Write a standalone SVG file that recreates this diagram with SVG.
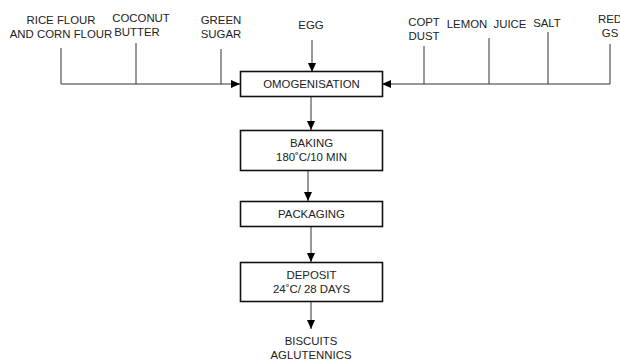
<svg xmlns="http://www.w3.org/2000/svg" width="620" height="360" viewBox="0 0 620 360">
<defs>
<marker id="ah" markerUnits="userSpaceOnUse" markerWidth="10" markerHeight="10" refX="9" refY="4" orient="auto">
<path d="M0,0 L9,4 L0,8 Z" fill="#000"/>
</marker>
<style>
text{font-family:"Liberation Sans",Arial,sans-serif;font-size:11.4px;fill:#222;text-anchor:middle}
.box{fill:#fff;stroke:#111;stroke-width:1.6}
.ln{fill:none;stroke:#333;stroke-width:1}
.ar{fill:none;stroke:#333;stroke-width:1;marker-end:url(#ah)}
</style>
</defs>
<rect width="620" height="360" fill="#fff"/>
<g id="connectors">
<path class="ln" d="M61,48 V84"/>
<path class="ln" d="M136,43 V84"/>
<path class="ln" d="M221,49 V84"/>
<path class="ar" d="M61,84 H240"/>
<path class="ln" d="M424,46 V84"/>
<path class="ln" d="M489,38 V84"/>
<path class="ln" d="M548,32 V84"/>
<path class="ln" d="M610,44 V84"/>
<path class="ar" d="M610,84 H382"/>
<path class="ar" d="M312,40 V72"/>
<path class="ar" d="M311,97 V130"/>
<path class="ar" d="M308,170 V201"/>
<path class="ar" d="M311,227 V262"/>
<path class="ar" d="M311,302 V329"/>
</g>
<g id="rice"><text x="61" y="24">RICE FLOUR</text><text x="61" y="38">AND CORN FLOUR</text></g>
<g id="coconut"><text x="141" y="22">COCONUT</text><text x="137" y="36">BUTTER</text></g>
<g id="green"><text x="221" y="24">GREEN</text><text x="221" y="38">SUGAR</text></g>
<g id="egg"><text x="311" y="29">EGG</text></g>
<g id="copt"><text x="424" y="26">COPT</text><text x="424" y="40">DUST</text></g>
<g id="lemon"><text x="467" y="28">LEMON</text><text x="510" y="28">JUICE</text></g>
<g id="salt"><text x="547" y="27">SALT</text></g>
<g id="red"><text x="610" y="23">RED</text><text x="610" y="37">GS</text></g>
<g id="omog"><rect class="box" x="240.5" y="71.5" width="142" height="25"/><text x="311.5" y="88">OMOGENISATION</text></g>
<g id="baking"><rect class="box" x="240.5" y="130.5" width="142" height="40"/><text x="311.5" y="147">BAKING</text><text x="311.5" y="161">180˚C/10 MIN</text></g>
<g id="packaging"><rect class="box" x="240.5" y="201.5" width="142" height="25"/><text x="311.5" y="218">PACKAGING</text></g>
<g id="deposit"><rect class="box" x="240.5" y="262.5" width="142" height="39"/><text x="311.5" y="279">DEPOSIT</text><text x="311.5" y="293">24˚C/ 28 DAYS</text></g>
<g id="biscuits"><text x="311" y="345">BISCUITS</text><text x="311" y="359">AGLUTENNICS</text></g>
</svg>
